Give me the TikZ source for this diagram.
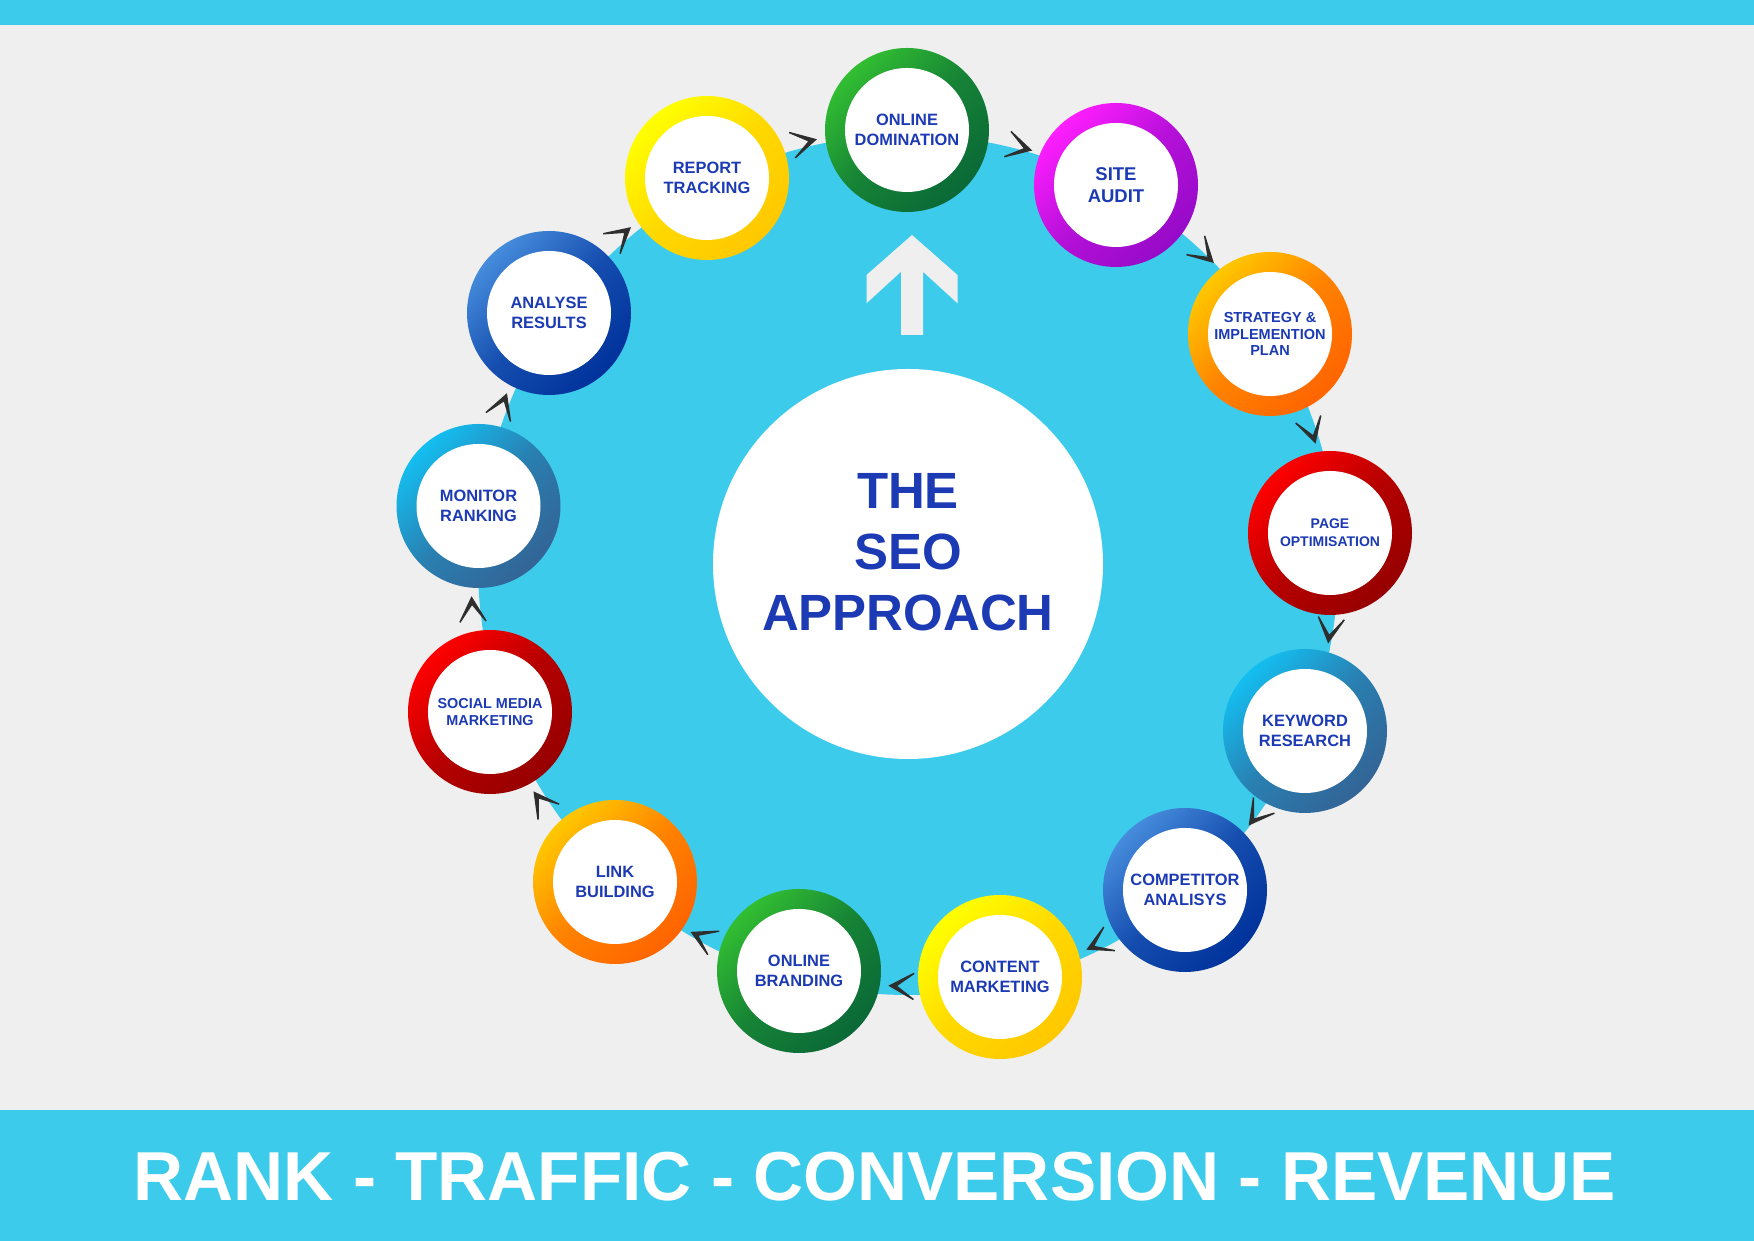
\documentclass[tikz,border=0pt]{standalone}
\usepackage{fontspec}
\setmainfont{Liberation Sans}
\usetikzlibrary{arrows.meta,decorations.markings}

\definecolor{bggrey}{HTML}{EFEFEF}
\definecolor{skyblue}{HTML}{3DCBEC}
\definecolor{seoblue}{HTML}{1C3AB4}
\definecolor{arrowgrey}{HTML}{2E2E2E}
\definecolor{greenA}{HTML}{32BE32}  \definecolor{greenB}{HTML}{0A6937}
\definecolor{pinkA}{HTML}{FF1EFF}   \definecolor{pinkB}{HTML}{960AC8}
\definecolor{orangeA}{HTML}{FFC800} \definecolor{orangeB}{HTML}{FF6400}
\definecolor{redA}{HTML}{FF0000}    \definecolor{redB}{HTML}{960000}
\definecolor{cyanA}{HTML}{14BEF0}   \definecolor{cyanB}{HTML}{336496}
\definecolor{blueA}{HTML}{468CDC}   \definecolor{blueB}{HTML}{00329B}
\definecolor{yellowA}{HTML}{FFFF00} \definecolor{yellowB}{HTML}{FFC800}

\tikzset{
  ring/.style 2 args={circle, minimum size=1.64cm, inner sep=0pt,
    top color=#1, bottom color=#2, middle color=#2!70!#1, shading angle=45,
    path picture={\fill[white] (path picture bounding box.center) circle (0.62cm);},
    text=seoblue, align=center, font=\bfseries\fontsize{4.67}{5.69}\selectfont},
  flow/.style={color=arrowgrey,
    decoration={markings, mark=at position -0.07cm with {\pgftransformyshift{0.12cm}\arrow{Stealth[length=3.4mm, width=3.7mm, inset=2.5mm]}}},
    postaction={decorate}}
}

\begin{document}
\begin{tikzpicture}
    % Background and bars
    \fill[bggrey] (0,0) rectangle (17.54,12.41);
    \fill[skyblue] (0,12.16) rectangle (17.54,12.41);
    \fill[skyblue] (0,0) rectangle (17.54,1.31);

    % Blue disc, up arrow and hub
    \fill[skyblue] (9.08,6.76) circle (4.30);
    \fill[bggrey] (9.12,10.06) -- (8.665,9.66) -- (8.665,9.377) -- (9.01,9.693) -- (9.01,9.06)
        -- (9.23,9.06) -- (9.23,9.693) -- (9.575,9.377) -- (9.575,9.66) -- cycle;
    \fill[white] (9.08,6.77) circle (1.95);
    \node[text=seoblue, align=center, font=\bfseries\fontsize{14.5}{17.4}\selectfont] (title) at (9.08,6.885) {THE\\SEO\\APPROACH};

    % Steps
    \node[ring={greenA}{greenB}] (od) at (9.07,11.11) {ONLINE\\DOMINATION};
    \node[ring={pinkA}{pinkB}, font=\bfseries\fontsize{5.26}{6.46}\selectfont] (sa) at (11.16,10.56) {SITE\\AUDIT};
    \node[ring={orangeA}{orangeB}, font=\bfseries\fontsize{4.13}{4.75}\selectfont] (sp) at (12.70,9.07) {STRATEGY \&\\IMPLEMENTION\\PLAN};
    \node[ring={redA}{redB}, font=\bfseries\fontsize{3.98}{5.12}\selectfont] (po) at (13.30,7.08) {PAGE\\OPTIMISATION};
    \node[ring={cyanA}{cyanB}] (kr) at (13.05,5.10) {KEYWORD\\RESEARCH};
    \node[ring={blueA}{blueB}] (ca) at (11.85,3.51) {COMPETITOR\\ANALISYS};
    \node[ring={yellowA}{yellowB}] (cm) at (10.00,2.64) {CONTENT\\MARKETING};
    \node[ring={greenA}{greenB}] (ob) at (7.99,2.70) {ONLINE\\BRANDING};
    \node[ring={orangeA}{orangeB}] (lb) at (6.15,3.59) {LINK\\BUILDING};
    \node[ring={redA}{redB}, font=\bfseries\fontsize{4.1}{4.92}\selectfont] (sm) at (4.90,5.29) {SOCIAL MEDIA\\MARKETING};
    \node[ring={cyanA}{cyanB}] (mr) at (4.785,7.35) {MONITOR\\RANKING};
    \node[ring={blueA}{blueB}] (ar) at (5.49,9.28) {ANALYSE\\RESULTS};
    \node[ring={yellowA}{yellowB}] (rt) at (7.07,10.63) {REPORT\\TRACKING};

    % Cycle arrows
    \path[flow] (od) -- (sa);
    \path[flow] (sa) -- (sp);
    \path[flow] (sp) -- (po);
    \path[flow] (po) -- (kr);
    \path[flow] (kr) -- (ca);
    \path[flow] (ca) -- (cm);
    \path[flow] (cm) -- (ob);
    \path[flow] (ob) -- (lb);
    \path[flow] (lb) -- (sm);
    \path[flow] (sm) -- (mr);
    \path[flow] (mr) -- (ar);
    \path[flow] (ar) -- (rt);
    \path[flow] (rt) -- (od);

    % Footer
    \node[anchor=base, text=white, font=\bfseries\fontsize{19.72}{23}\selectfont] (motto) at (8.75,0.40) {RANK - TRAFFIC - CONVERSION - REVENUE};
\end{tikzpicture}
\end{document}
